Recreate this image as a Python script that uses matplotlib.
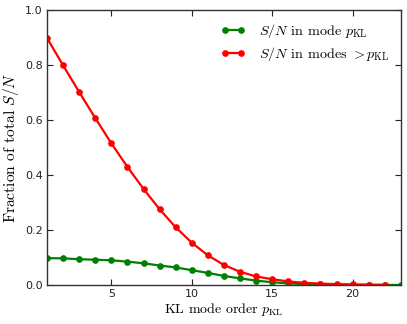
import matplotlib
matplotlib.use("Agg")
import matplotlib.pyplot as plt

p_green = list(range(1, 24))
sn_mode = [0.098, 0.097, 0.094, 0.092, 0.090, 0.085, 0.079, 0.071, 0.064, 0.054,
           0.044, 0.033, 0.024, 0.016, 0.010, 0.006, 0.003, 0.002, 0.001, 0.0005,
           0.0003, 0.0002, 0.0001]
p_red = list(range(1, 23))
sn_above = [0.900, 0.800, 0.703, 0.608, 0.516, 0.430, 0.350, 0.276, 0.210, 0.154,
            0.108, 0.073, 0.048, 0.031, 0.021, 0.013, 0.008, 0.005, 0.003, 0.002,
            0.001, 0.0005]
xticks = [5, 10, 15, 20]
yticks = [0.0, 0.2, 0.4, 0.6, 0.8, 1.0]

plt.rcParams['mathtext.fontset'] = 'cm'
plt.rcParams['axes.unicode_minus'] = False

fig = plt.figure(figsize=(4.07, 3.24), dpi=100)
fig.patch.set_facecolor('white')
ax = fig.add_axes([0.1155, 0.1204, 0.8695, 0.8472])

ax.plot(p_green, sn_mode, color='green', lw=1.6, marker='o', ms=3.8, mec='green',
        label=r'$S/N$ in mode $p_{\rm KL}$')
ax.plot(p_red, sn_above, color='red', lw=1.6, marker='o', ms=3.8, mec='red',
        label=r'$S/N$ in modes $>p_{\rm KL}$')

ax.set_xlim(1, 23)
ax.set_ylim(0, 1)
ax.set_xticks(xticks)
ax.set_yticks(yticks)
ax.set_yticklabels([f"{v:.1f}" for v in yticks])
ax.tick_params(direction='in', top=True, right=True, length=4, width=0.8,
               labelsize=8, pad=3, colors='#222222')
for s in ax.spines.values():
    s.set_linewidth(1.0)
    s.set_color('#333333')

ax.set_xlabel(r'KL mode order $p_{\rm KL}$', family='cmr10', fontsize=10, labelpad=1)
ax.set_ylabel(r'Fraction of total $S/N$', family='cmr10', fontsize=11.2, labelpad=3)

leg = ax.legend(loc='upper right', frameon=False, numpoints=2,
                prop={'family': 'cmr10', 'size': 10.2}, handlelength=1.7,
                handletextpad=1.0, borderaxespad=0.5, labelspacing=0.35,
                borderpad=0.3)

fig.savefig('out.png', dpi=100, facecolor='white')
